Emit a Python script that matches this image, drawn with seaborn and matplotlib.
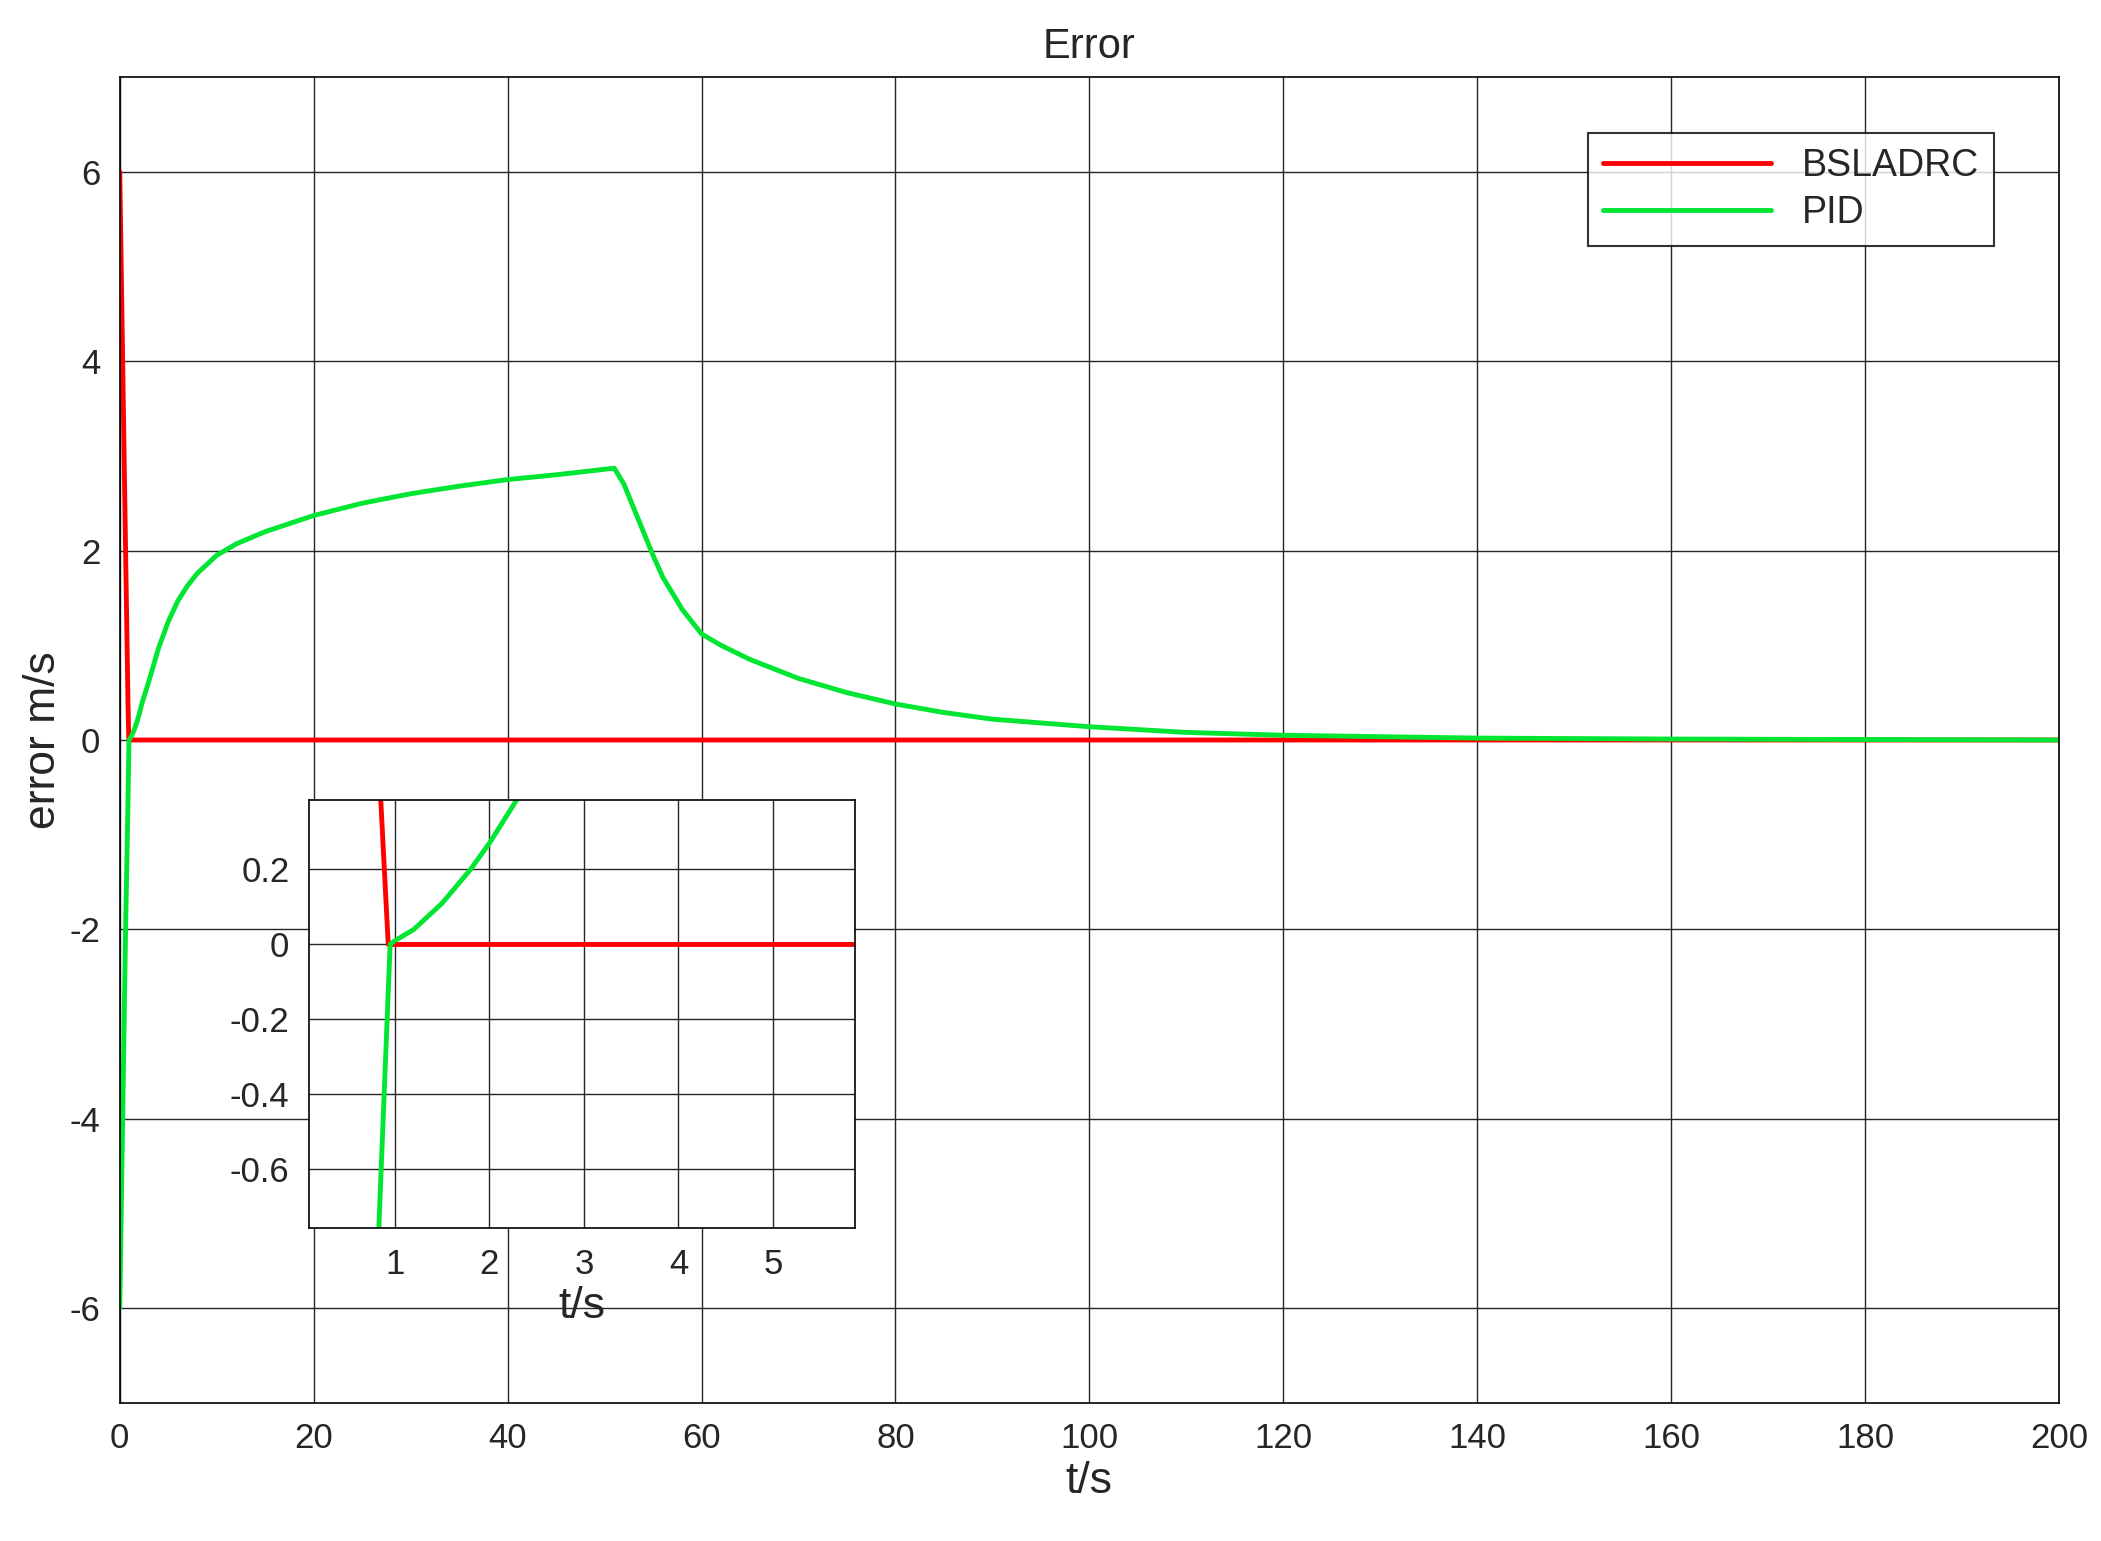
import matplotlib
matplotlib.use("Agg")
import matplotlib.pyplot as plt
import seaborn as sns
import pandas as pd

sns.set_style("white")
plt.rcParams['font.family'] = ['Liberation Sans', 'DejaVu Sans']
plt.rcParams['axes.unicode_minus'] = False

bs_t = [0, 0.3, 0.6, 0.85, 0.93, 1.2, 2, 5, 10, 50, 100, 150, 200]
bs_v = [6, 4.0, 2.0, 0.39, 0.0, 0.0, 0, 0, 0, 0, 0, 0, 0]

pid_t = [0, 0.3, 0.6, 0.83, 0.95, 1.0, 1.2, 1.5, 1.8, 2.0, 2.3, 3, 4, 5, 6, 7, 8, 10, 12, 15, 20, 25, 30, 35, 40, 45, 51,
         52, 53, 54, 55, 56, 58, 60, 62, 65, 70, 75, 80, 85, 90, 100, 110, 120, 140, 160, 180, 200]
pid_v = [-6, -4, -2, -0.76, 0, 0.01, 0.04, 0.11, 0.2, 0.27, 0.39, 0.62, 0.97, 1.25, 1.47, 1.63, 1.76, 1.95, 2.07, 2.2, 2.37, 2.5, 2.6, 2.68, 2.75, 2.8, 2.87,
         2.7, 2.45, 2.2, 1.95, 1.72, 1.38, 1.12, 1.0, 0.85, 0.65, 0.5, 0.38, 0.29, 0.22, 0.14, 0.08, 0.05, 0.02, 0.01, 0.005, 0.0]

df = pd.concat([pd.DataFrame({"t": bs_t, "v": bs_v, "s": "BSLADRC"}),
                pd.DataFrame({"t": pid_t, "v": pid_v, "s": "PID"})])
pal = {"BSLADRC": "#ff0000", "PID": "#00e632"}

fig = plt.figure(figsize=(21.01, 15.41), dpi=100)
ax = fig.add_axes([0.057, 0.0896, 0.923, 0.8604])
sns.lineplot(data=df, x="t", y="v", hue="s", palette=pal, linewidth=3.5, ax=ax, sort=False)
ax.set_xlim(0, 200); ax.set_ylim(-7, 7)
ax.set_xticks(range(0, 201, 20)); ax.set_yticks(range(-6, 7, 2))
ax.grid(True, color="#262626", linewidth=1)
ax.tick_params(labelsize=25, direction="in", length=6, pad=14)
ax.set_xlabel("t/s", fontsize=32); ax.set_ylabel("error m/s", fontsize=32)
ax.set_title("Error", fontsize=30, pad=14)
for s in ax.spines.values(): s.set_color("black"); s.set_linewidth(1.2)
leg = ax.legend(loc="upper right", bbox_to_anchor=(0.976, 0.972), fontsize=27, frameon=True,
                fancybox=False, edgecolor="black", handlelength=4.5, borderpad=0.4, labelspacing=0.3)
leg.get_frame().set_linewidth(1.5)

ins = fig.add_axes([0.147, 0.203, 0.26, 0.278])
sns.lineplot(data=df, x="t", y="v", hue="s", palette=pal, linewidth=3.5, ax=ins, sort=False, legend=False)
ins.set_xlim(0.09, 5.87); ins.set_ylim(-0.757, 0.386)
ins.set_xticks([1, 2, 3, 4, 5]); ins.set_yticks([-0.6, -0.4, -0.2, 0, 0.2])
ins.set_yticklabels(["-0.6", "-0.4", "-0.2", "0", "0.2"])
ins.grid(True, color="#262626", linewidth=1)
ins.tick_params(labelsize=25, direction="in", length=5, pad=14)
ins.set_xlabel("t/s", fontsize=32); ins.set_ylabel("")
for s in ins.spines.values(): s.set_color("black"); s.set_linewidth(1.2)

fig.savefig("out.png", dpi=100)
